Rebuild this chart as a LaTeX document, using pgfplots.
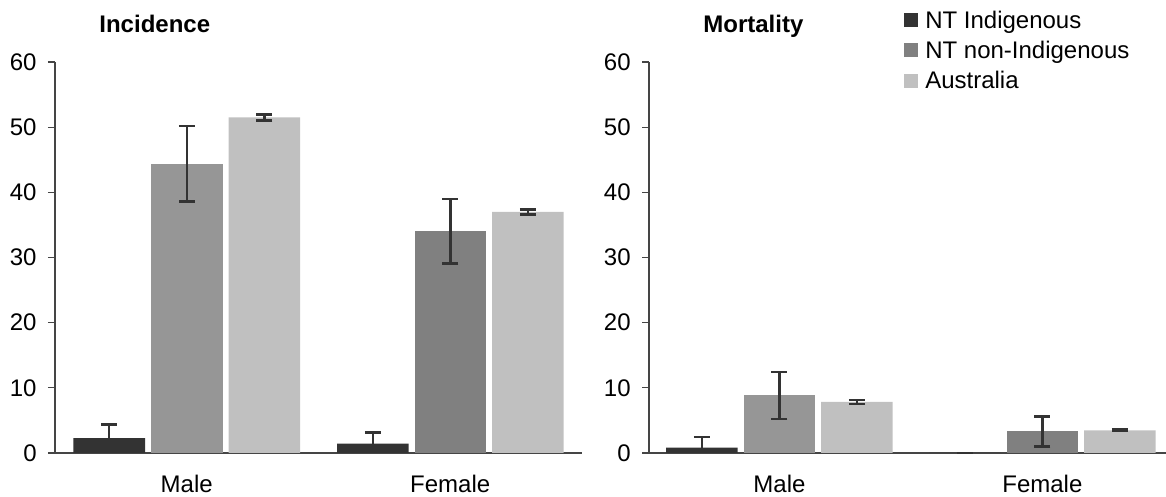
\documentclass[border=0pt]{standalone}
\usepackage{pgfplots}
\pgfplotsset{compat=1.18}
\usepackage{pgfplotstable}
\usepackage{fontspec}
\setmainfont{Liberation Sans}

\definecolor{indig}{HTML}{333333}
\definecolor{nonindM}{HTML}{969696}
\definecolor{nonindF}{HTML}{808080}
\definecolor{aus}{HTML}{C0C0C0}
\definecolor{errc}{HTML}{333333}
\definecolor{axc}{HTML}{454545}

% Rates per 100,000 with the half-width of the confidence interval
\pgfplotstableread{
x val err
0 2.3 2.1
1 1.44 1.7
}\incIndig
\pgfplotstableread{
x val err
0 44.4 5.8
}\incNonIndM
\pgfplotstableread{
x val err
1 34.0 4.95
}\incNonIndF
\pgfplotstableread{
x val err
0 51.5 0.45
1 37.0 0.4
}\incAus

\pgfplotstableread{
x val err
0 0.82 1.63
1 0.0 0.0
}\morIndig
\pgfplotstableread{
x val err
0 8.85 3.6
}\morNonIndM
\pgfplotstableread{
x val err
1 3.32 2.3
}\morNonIndF
\pgfplotstableread{
x val err
0 7.85 0.3
1 3.47 0.12
}\morAus

\newcommand{\chartfont}{\fontsize{12}{14.4}\selectfont}

\pgfplotsset{
  panel/.style={
    ybar,
    bar width=35.75pt,
    scale only axis,
    height=195.5pt,
    ymin=0, ymax=60,
    ytick={0,10,...,60},
    xtick={0,1},
    xticklabels={Male,Female},
    axis x line*=bottom,
    axis y line*=left,
    axis line style={axc, line width=0.6pt},
    tick align=outside,
    major tick length=3.5pt,
    y tick style={axc, line width=0.6pt},
    x tick style={draw=none},
    tick label style={font=\chartfont},
    /pgf/number format/assume math mode=true,
    yticklabel style={anchor=east, inner sep=0pt, xshift=-5.5pt},
    xticklabel style={anchor=north, inner sep=0pt, yshift=-7.5pt},
    title style={anchor=base west, inner sep=0pt, yshift=0pt, font=\bfseries\chartfont},
    clip=false,
  },
  bars/.style={draw=none, fill=#1, bar width=35.75pt,
    /pgfplots/error bars/y dir=both,
    /pgfplots/error bars/y explicit,
    /pgfplots/error bars/error bar style={errc, line width=1.25pt},
    /pgfplots/error bars/error mark options={errc, line width=1.25pt, mark size=4pt, rotate=90}},
  upbars/.style={draw=none, fill=#1, bar width=35.75pt,
    /pgfplots/error bars/y dir=plus,
    /pgfplots/error bars/y explicit,
    /pgfplots/error bars/error bar style={errc, line width=1.25pt},
    /pgfplots/error bars/error mark options={errc, line width=1.25pt, mark size=4pt, rotate=90}},
}

\begin{document}
\begin{tikzpicture}
\useasboundingbox (-27.5pt,-22pt) rectangle (555.5pt,226.5pt);

% Incidence
\begin{axis}[panel, width=263.5pt, xmin=-0.5, xmax=1.5,
  title={Incidence}, title style={at={(0.0835,1.046)}}]
  \addplot[upbars=indig, bar shift=-38.75pt] table[x=x, y=val, y error=err] {\incIndig};
  \addplot[bars=nonindM, bar shift=0pt] table[x=x, y=val, y error=err] {\incNonIndM};
  \addplot[bars=nonindF, bar shift=0pt] table[x=x, y=val, y error=err] {\incNonIndF};
  \addplot[bars=aus, bar shift=38.75pt] table[x=x, y=val, y error=err] {\incAus};
\end{axis}

% Mortality
\begin{axis}[panel, at={(297pt,0pt)}, anchor=south west,
  width=258.5pt, xmin=-0.496, xmax=1.47,
  title={Mortality}, title style={at={(0.1044,1.046)}},
  legend style={at={(0.493,1.133)}, anchor=north west, draw=none, fill=none,
    inner sep=0pt, font=\chartfont, row sep=3.6pt,
    nodes={inner sep=0pt, text height=8.8pt, text depth=2.7pt},
    /tikz/every odd column/.append style={column sep=3.5pt}},
  legend cell align=left,
  legend image code/.code={\fill[#1] (0pt,-2.6pt) rectangle (7pt,4.4pt);}]
  \addplot[upbars=indig, bar shift=-38.75pt] table[x=x, y=val, y error=err] {\morIndig};
  \addlegendentry{NT Indigenous}
  \addplot[bars=nonindM, bar shift=0pt, forget plot] table[x=x, y=val, y error=err] {\morNonIndM};
  \addplot[bars=nonindF, bar shift=0pt] table[x=x, y=val, y error=err] {\morNonIndF};
  \addlegendentry{NT non-Indigenous}
  \addplot[bars=aus, bar shift=38.75pt] table[x=x, y=val, y error=err] {\morAus};
  \addlegendentry{Australia}
\end{axis}
\end{tikzpicture}
\end{document}
